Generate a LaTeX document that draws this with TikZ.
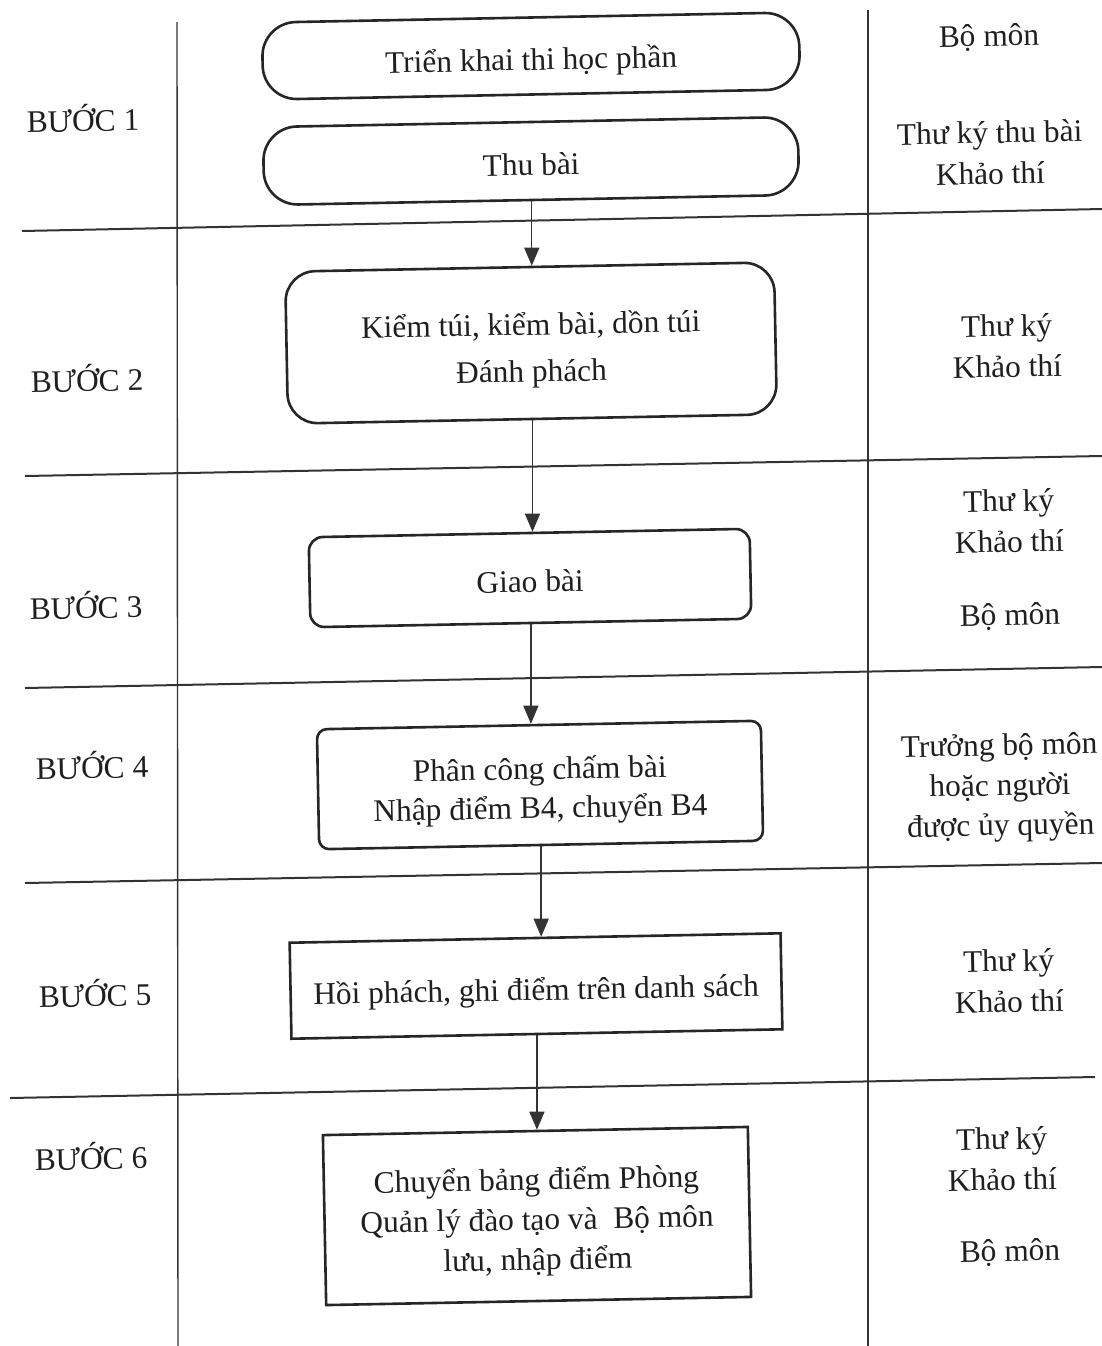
\documentclass[tikz,border=0pt]{standalone}
\usepackage{fontspec}
\setmainfont{Liberation Serif}
\usetikzlibrary{arrows.meta}
\newcommand\boxlines[1]{\raisebox{-3pt}[\height][\depth]{\begin{tabular}{@{}c@{}}#1\end{tabular}}}
\begin{document}
\begin{tikzpicture}[x=0.5pt,y=-0.5pt,
  txt/.style={font=\fontsize{15.7}{20.5}\selectfont, text=black!88, align=center, inner sep=0pt, rotate=1.1},
  box/.style={txt, draw=black!85, line width=1.3pt, fill=white},
  grid/.style={line width=1pt, draw=black!80},
  vline/.style={line width=0.7pt, draw=black!80},
  arr/.style={line width=0.7pt, draw=black!80, -{Triangle[width=7.5pt,length=9pt]}}
]
\useasboundingbox (0,0) rectangle (1102,1346);
\fill[white] (0,0) rectangle (1102,1346);

% vertical column lines
\coordinate (vlt) at (177,22);  \coordinate (vlb) at (178,1346);
\coordinate (vrt) at (868,10);  \coordinate (vrb) at (868,1346);
\draw[vline] (vlt) -- (vlb);
\draw[vline] (vrt) -- (vrb);

% horizontal separators (scan is slightly skewed)
\coordinate (h1a) at (22,231);  \coordinate (h1b) at (1102,209);
\coordinate (h2a) at (25,476);  \coordinate (h2b) at (1102,456);
\coordinate (h3a) at (25,688);  \coordinate (h3b) at (1102,667);
\coordinate (h4a) at (25,883);  \coordinate (h4b) at (1102,863);
\coordinate (h5a) at (10,1098); \coordinate (h5b) at (1095,1077);
\draw[grid] (h1a) -- (h1b);
\draw[grid] (h2a) -- (h2b);
\draw[grid] (h3a) -- (h3b);
\draw[grid] (h4a) -- (h4b);
\draw[grid] (h5a) -- (h5b);

% step labels
\node[txt] (s1) at (83,118)  {BƯỚC 1};
\node[txt] (s2) at (87,378)  {BƯỚC 2};
\node[txt] (s3) at (86,605)  {BƯỚC 3};
\node[txt] (s4) at (92,765)  {BƯỚC 4};
\node[txt] (s5) at (95,993)  {BƯỚC 5};
\node[txt] (s6) at (91,1156) {BƯỚC 6};

% process boxes
\node[box, rounded corners=17pt, minimum width=268.5pt, minimum height=38.5pt] (b1a) at (531,56) {\boxlines{Triển khai thi học phần}};
\node[box, rounded corners=17pt, minimum width=267.5pt, minimum height=39pt] (b1b) at (531,161) {\boxlines{Thu bài}};
\node[box, rounded corners=15pt, minimum width=244.5pt, minimum height=76pt,
      font=\fontsize{15.7}{23.5}\selectfont] (b2) at (531,343) {\boxlines{Kiểm túi, kiểm bài, dồn túi\\Đánh phách}};
\node[box, rounded corners=7pt, minimum width=220.5pt, minimum height=45pt] (b3) at (530,578) {\boxlines{Giao bài}};
\node[box, rounded corners=5pt, minimum width=222pt, minimum height=60pt,
      font=\fontsize{15.7}{19.5}\selectfont] (b4) at (540,785) {\boxlines{Phân công chấm bài\\Nhập điểm B4, chuyển B4}};
\node[box, minimum width=245.5pt, minimum height=48pt] (b5) at (536,986) {\boxlines{Hồi phách, ghi điểm trên danh sách}};
\node[box, minimum width=212.5pt, minimum height=85pt,
      font=\fontsize{15.7}{20}\selectfont] (b6) at (537,1216) {\boxlines{Chuyển bảng điểm Phòng\\Quản lý đào tạo và~ Bộ môn\\lưu, nhập điểm}};

% connectors
\draw[arr] (b1b.south) -- (b1b.south |- b2.north);
\draw[arr] (b2.south) -- (b2.south |- b3.north);
\draw[arr] (b3.south) -- (b3.south |- b4.north);
\draw[arr] (b4.south) -- (b4.south |- b5.north);
\draw[arr] (b5.south) -- (b5.south |- b6.north);

% responsible parties
\node[txt] (r1a) at (989,38)   {Bộ môn};
\node[txt] (r1b) at (990,153)  {Thư ký thu bài\\Khảo thí};
\node[txt] (r2)  at (1007,346) {Thư ký\\Khảo thí};
\node[txt] (r3a) at (1009,521) {Thư ký\\Khảo thí};
\node[txt] (r3b) at (1010,617) {Bộ môn};
\node[txt, font=\fontsize{15.7}{20}\selectfont] (r4) at (1000,788) {Trưởng bộ môn\\hoặc người\\được ủy quyền};
\node[txt] (r5)  at (1009,981) {Thư ký\\Khảo thí};
\node[txt] (r6a) at (1002,1159) {Thư ký\\Khảo thí};
\node[txt] (r6b) at (1010,1253) {Bộ môn};
\end{tikzpicture}
\end{document}
